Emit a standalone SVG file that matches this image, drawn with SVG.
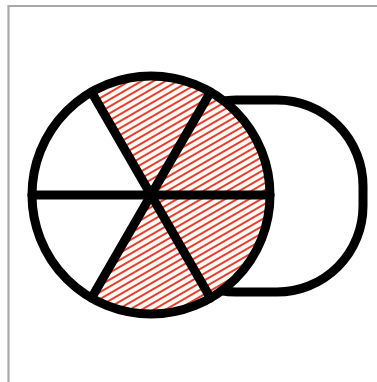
<svg xmlns="http://www.w3.org/2000/svg" width="377" height="382" viewBox="0 0 377 382">
  <style>
    .ink { stroke: #000; stroke-width: 9; fill: none; stroke-linecap: round; stroke-linejoin: round; }
  </style>
  <defs>
    <pattern id="hatch" patternUnits="userSpaceOnUse" width="10" height="6" patternTransform="rotate(-30)">
      <rect width="10" height="6" fill="#fff8f2"/>
      <line x1="0" y1="3" x2="10" y2="3" stroke="#d8392c" stroke-width="1.9"/>
    </pattern>
  </defs>
  <rect width="377" height="382" fill="#fff"/>
  <path d="M8.5,382 V6 H377" fill="none" stroke="#a8a8a8" stroke-width="2.2"/>
  <g id="rounded-box">
    <rect x="150" y="100" width="213" height="192" rx="86" ry="86" class="ink" fill="#fff"/>
  </g>
  <g id="circle">
    <circle cx="151" cy="195" r="119" fill="#fff"/>
    <path d="M151,195 L91.5,91.9 A119,119 0 1 1 91.5,298.1 Z" fill="url(#hatch)"/>
    <circle cx="151" cy="195" r="119" class="ink"/>
  </g>
  <g id="spokes">
    <line x1="32" y1="195" x2="270" y2="195" class="ink"/>
    <line x1="91.5" y1="91.9" x2="210.5" y2="298.1" class="ink"/>
    <line x1="210.5" y1="91.9" x2="91.5" y2="298.1" class="ink"/>
  </g>
</svg>
